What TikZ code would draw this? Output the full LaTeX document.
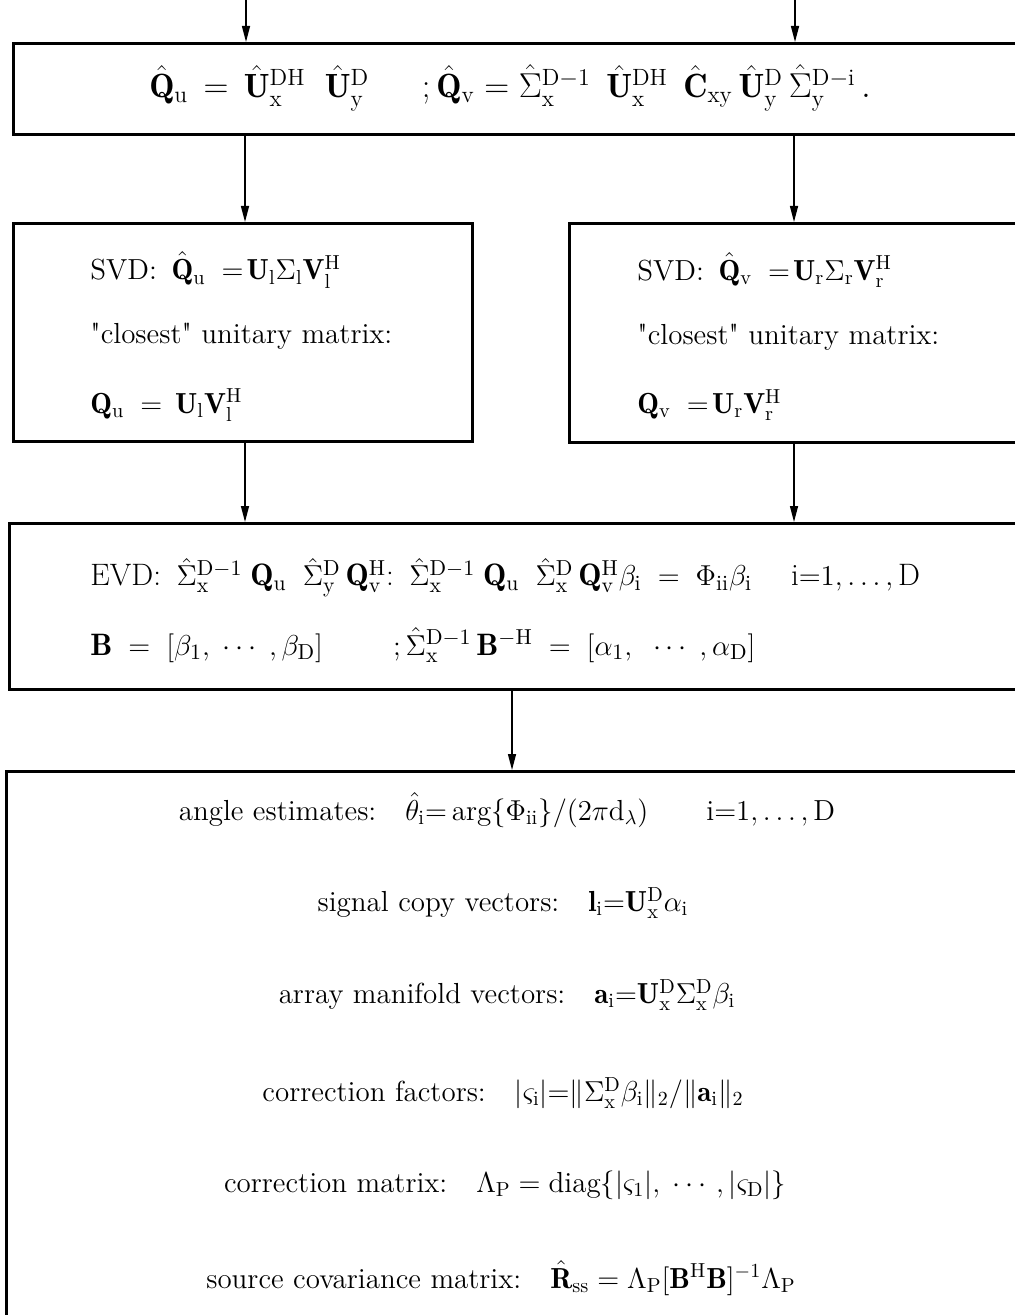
\documentclass[tikz,border=0pt]{standalone}
\usepackage{amsmath,amssymb}
\usepackage{fontspec}
\usetikzlibrary{arrows.meta,positioning,calc}
\tikzset{
  stage/.style={draw=black, line width=1.3pt, inner sep=0pt, anchor=north west},
  eqn/.style={font=\fontsize{14.5}{17}\selectfont, inner sep=0pt, anchor=west},
  ceqn/.style={font=\fontsize{14.5}{17}\selectfont, inner sep=0pt},
  flow/.style={-{Triangle[length=8pt,width=4pt]}, line width=0.7pt},
}
\newcommand{\bQ}{\mathbf{Q}}
\newcommand{\bU}{\mathbf{U}}
\newcommand{\bV}{\mathbf{V}}
\newcommand{\bB}{\mathbf{B}}
\newcommand{\up}[1]{\mathrm{#1}}

\begin{document}
\begin{tikzpicture}[x=0.5pt,y=-0.5pt]
        \useasboundingbox (0,0) rectangle (1015,1315);
        \clip (0,0) rectangle (1015,1315);
        \node[stage, minimum width=509pt,   minimum height=45.5pt] (prod) at (12,42)  {};
        \node[stage, minimum width=229.5pt, minimum height=109pt]  (svdu) at (12,222) {};
        \node[stage, minimum width=231pt,   minimum height=109.5pt](svdv) at (568,222) {};
        \node[stage, minimum width=511pt,   minimum height=83pt]   (evd)  at (8,522)  {};
        \node[stage, minimum width=512.5pt, minimum height=280pt]  (res)  at (5,770)  {};
        \coordinate (inu) at (246,0);
        \coordinate (inv) at (795,0);
        \coordinate (colu) at (245,0);
        \coordinate (colv) at (794,0);
        \coordinate (colm) at (512,0);
        \draw[flow] (inu) -- (inu |- prod.north);
        \draw[flow] (inv) -- (inv |- prod.north);
        \draw[flow] (prod.south -| colu) -- (svdu.north -| colu);
        \draw[flow] (prod.south -| colv) -- (svdv.north -| colv);
        \draw[flow] (svdu.south -| colu) -- (evd.north -| colu);
        \draw[flow] (svdv.south -| colv) -- (evd.north -| colv);
        \draw[flow] (evd.south -| colm) -- (res.north -| colm);
        \node[ceqn, font=\fontsize{16.8}{19}\selectfont] (qq) at (510,88)
          {$\hat{\bQ}_{\up u} \,=\, \hat{\bU}_{\up x}^{\up{DH}}\;\; \hat{\bU}_{\up y}^{\up D}\quad\;\; ;\hat{\bQ}_{\up v} = \hat{\Sigma}_{\up x}^{\up D-1}\;\, \hat{\bU}_{\up x}^{\up{DH}}\;\, \hat{\mathbf{C}}_{\up{xy}}\, \hat{\bU}_{\up y}^{\up D}\, \hat{\Sigma}_{\up y}^{\up{D-i}}\,.$};
        \node[eqn] (su1) at (90,270) {SVD:\enspace $\hat{\bQ}_{\up u} \;=\!\bU_{\up l}\Sigma_{\up l}\bV_{\up l}^{\up H}$};
        \node[eqn] (su2) at (90,336) {\textquotedbl closest\textquotedbl\ unitary matrix:};
        \node[eqn] (su3) at (90,405) {$\bQ_{\up u} \;=\, \bU_{\up l}\bV_{\up l}^{\up H}$};
        \node[eqn] (sv1) at (637,270) {SVD:\enspace $\hat{\bQ}_{\up v} \;=\!\bU_{\up r}\Sigma_{\up r}\bV_{\up r}^{\up H}$};
        \node[eqn] (sv2) at (637,337) {\textquotedbl closest\textquotedbl\ unitary matrix:};
        \node[eqn] (sv3) at (637,405) {$\bQ_{\up v} \;=\!\bU_{\up r}\bV_{\up r}^{\up H}$};
        \node[eqn, font=\fontsize{15.5}{18}\selectfont] (ev1) at (90,578)
          {EVD:\enspace $\hat{\Sigma}_{\up x}^{\up D-1}\;\bQ_{\up u}\;\;\hat{\Sigma}_{\up y}^{\up D}\,\bQ_{\up v}^{\up H}$:\enspace $\hat{\Sigma}_{\up x}^{\up D-1}\;\bQ_{\up u}\;\;\hat{\Sigma}_{\up x}^{\up D}\,\bQ_{\up v}^{\up H}\beta_{\up i} \;=\; \Phi_{\up{ii}}\beta_{\up i}\quad\; \up i{=}1,\dots,\up D$};
        \node[eqn, font=\fontsize{15.5}{18}\selectfont] (ev2) at (90,645)
          {$\bB \;=\; [\beta_1,\;\cdots\;,\beta_{\up D}]\qquad\; ;\hat{\Sigma}_{\up x}^{\up D-1}\,\bB^{-\up H} \;=\; [\alpha_1,\;\;\cdots\;,\alpha_{\up D}]$};
        \node[ceqn] (r1) at (507,810) {angle estimates:\quad $\hat{\theta}_{\up i}{=}\arg\{\Phi_{\up{ii}}\}/(2\pi \up d_\lambda)\qquad \up i{=}1,\dots,\up D$};
        \node[ceqn] (r2) at (503,903) {signal copy vectors:\quad $\mathbf{l}_{\up i}{=}\bU_{\up x}^{\up D}\alpha_{\up i}$};
        \node[ceqn] (r3) at (507,995) {array manifold vectors:\quad $\mathbf{a}_{\up i}{=}\bU_{\up x}^{\up D}\Sigma_{\up x}^{\up D}\beta_{\up i}$};
        \node[ceqn] (r4) at (503,1093) {correction factors:\quad $|\varsigma_{\up i}|{=}\|\Sigma_{\up x}^{\up D}\beta_{\up i}\|_2/\|\mathbf{a}_{\up i}\|_2$};
        \node[ceqn] (r5) at (505,1185) {correction matrix:\quad $\Lambda_{\up P} = \mathrm{diag}\{|\varsigma_1|,\;\cdots,|\varsigma_{\up D}|\}$};
        \node[ceqn] (r6) at (501,1278) {source covariance matrix:\quad $\hat{\mathbf{R}}_{\up{ss}} = \Lambda_{\up P}[\bB^{\up H}\bB]^{-1}\Lambda_{\up P}$};
      \end{tikzpicture}
\end{document}
